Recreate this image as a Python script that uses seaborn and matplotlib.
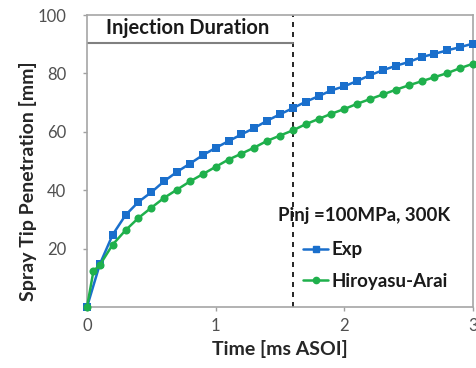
import matplotlib
matplotlib.use("Agg")
import matplotlib.pyplot as plt
import seaborn as sns
import pandas as pd

# Spray tip penetration vs time after start of injection
exp_time = [0.0, 0.1, 0.2, 0.3, 0.4, 0.5, 0.6, 0.7, 0.8, 0.9,
            1.0, 1.1, 1.2, 1.3, 1.4, 1.5, 1.6, 1.7, 1.8, 1.9,
            2.0, 2.1, 2.2, 2.3, 2.4, 2.5, 2.6, 2.7, 2.8, 2.9, 3.0]
exp_pen = [0.0, 14.7, 24.8, 31.5, 36.0, 39.3, 43.1, 46.3, 49.1, 52.0,
           54.5, 56.8, 59.1, 61.3, 63.8, 66.0, 68.1, 70.3, 72.2, 74.2,
           75.6, 77.4, 79.4, 81.1, 82.6, 83.9, 85.6, 86.7, 87.9, 89.0, 90.2]

model_time = [0.0, 0.05, 0.1, 0.2, 0.3, 0.4, 0.5, 0.6, 0.7, 0.8, 0.9,
              1.0, 1.1, 1.2, 1.3, 1.4, 1.5, 1.6, 1.7, 1.8, 1.9,
              2.0, 2.1, 2.2, 2.3, 2.4, 2.5, 2.6, 2.7, 2.8, 2.9, 3.0]
model_pen = [0.0, 12.3, 14.4, 21.4, 26.3, 30.5, 34.0, 37.4, 40.2, 43.0, 45.5,
             48.0, 50.5, 52.5, 54.6, 56.9, 58.7, 60.5, 62.6, 64.4, 66.2,
             67.8, 69.6, 71.2, 72.8, 74.4, 75.9, 77.3, 78.7, 80.1, 81.8, 83.3]

series_names = ["Exp", "Hiroyasu-Arai"]
injection_end = 1.6
x_ticks = [0, 1, 2, 3]
y_ticks = [20, 40, 60, 80, 100]

df = pd.concat([
    pd.DataFrame({"t": exp_time, "pen": exp_pen, "series": series_names[0]}),
    pd.DataFrame({"t": model_time, "pen": model_pen, "series": series_names[1]}),
], ignore_index=True)

sns.set_style("white")
plt.rcParams["font.family"] = ["Lato", "DejaVu Sans"]

fig = plt.figure(figsize=(4.77, 3.68), dpi=100)
ax = fig.add_axes([87 / 477, 1 - 307 / 368, 386 / 477, 292 / 368])

palette = {"Exp": "#1a6fcc", "Hiroyasu-Arai": "#1fb04c"}
sns.lineplot(data=df, x="t", y="pen", hue="series", style="series",
             markers={"Exp": "s", "Hiroyasu-Arai": "o"}, dashes=False,
             palette=palette, linewidth=1.8, markersize=5.8,
             markeredgewidth=0, ax=ax, legend=False, clip_on=False, zorder=3)

ax.set_xlim(0, 3)
ax.set_ylim(0, 100)
ax.set_xticks(x_ticks)
ax.set_yticks(y_ticks)
ax.tick_params(axis="y", direction="out", length=3, width=1, color="#a0a0a0",
               labelsize=12, labelcolor="#505050", pad=12, left=True)
ax.tick_params(axis="x", direction="out", length=3, width=1, color="#a0a0a0",
               labelsize=12, labelcolor="#505050", pad=5, bottom=True)

for sp in ax.spines.values():
    sp.set_color("#a6a6a6")
    sp.set_linewidth(1.2)

ax.set_xlabel("Time [ms ASOI]", fontsize=14, fontweight="bold", labelpad=4)
ax.set_ylabel("Spray Tip Penetration [mm]", fontsize=14, fontweight="bold")
ax.yaxis.set_label_coords(-0.13, 0.43)

# end of injection marker and its label box
ax.axvline(injection_end, color="black", linestyle=(0, (3, 3)), linewidth=1.2, zorder=2)
ax.plot([0, injection_end], [90.3, 90.3], color="#808080", linewidth=1.5, zorder=2)
ax.text(0.785, 95.6, "Injection Duration", ha="center", va="center",
        fontsize=14.5, fontweight="bold", color="#1a1a1a")

ax.text(2.15, 31.3, "Pinj =100MPa, 300K", ha="center", va="center",
        fontsize=13.5, fontweight="bold", color="#1a1a1a")

handles = [
    plt.Line2D([], [], color=palette["Exp"], marker="s", markersize=4.5, linewidth=1.8),
    plt.Line2D([], [], color=palette["Hiroyasu-Arai"], marker="o", markersize=4.5, linewidth=1.8),
]
leg = ax.legend(handles, series_names, loc="upper left", bbox_to_anchor=(0.54, 0.25),
                frameon=False, fontsize=13.5, handlelength=1.35, handletextpad=0.15,
                labelspacing=0.75, borderaxespad=0)
for txt in leg.get_texts():
    txt.set_fontweight("bold")
    txt.set_color("#1a1a1a")

fig.savefig("out.png", dpi=100)
